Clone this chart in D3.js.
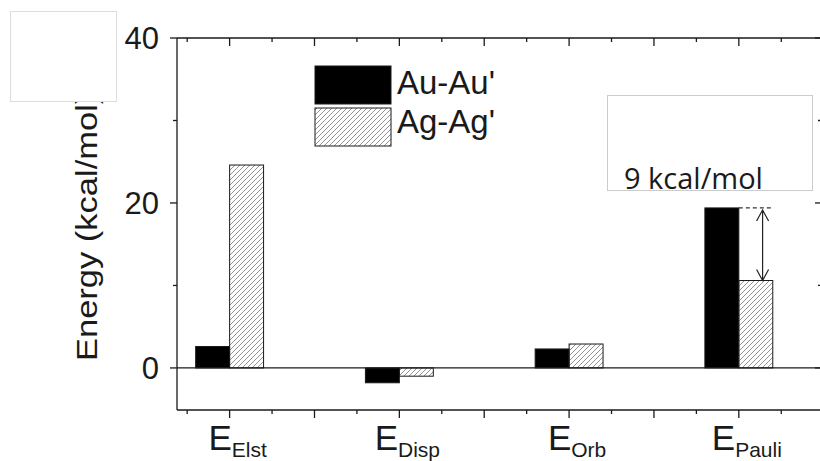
<!DOCTYPE html>
<html>
<head>
<meta charset="utf-8">
<script src="https://cdn.jsdelivr.net/npm/d3@7"></script>
<style>
	body { margin: 0; background: #fff; }
	svg { display: block; font-family: "Liberation Sans", Arial, sans-serif; }
</style>
</head>
<body>
<svg id="chart" width="820" height="461"></svg>
<script>
// energy decomposition terms (kcal/mol)
const categories = ['Elst', 'Disp', 'Orb', 'Pauli']
const seriesNames = ["Au-Au'", "Ag-Ag'"]
const auValues = [2.6, -1.8, 2.3, 19.4]
const agValues = [24.6, -1.0, 2.9, 10.6]
const yMajorTicks = [0, 20, 40]
const yMinorTicks = [10, 30]
const annotationText = '9 kcal/mol'

const svg = d3.select('#chart')
const ink = '#1a1a1a'

// plot frame
const x = d3.scaleLinear().domain([0.69, 4.49]).range([177, 822])
const y = d3.scaleLinear().domain([-5.1, 40]).range([410, 38])
const barW = x(1.2) - x(1)

// hatch for the Ag bars
const defs = svg.append('defs')
defs.append('pattern')
	.attr('id', 'hatch')
	.attr('patternUnits', 'userSpaceOnUse')
	.attr('width', 5)
	.attr('height', 5)
	.append('path')
	.attr('d', 'M0,5 L5,0 M-1,1 L1,-1 M4,6 L6,4')
	.attr('stroke', '#666')
	.attr('stroke-width', 0.7)

// bars
const rows = categories.map((c, i) => ({ name: c, pos: i + 1, au: auValues[i], ag: agValues[i] }))

svg.append('g').selectAll('rect')
	.data(rows)
	.join('rect')
	.attr('x', d => x(d.pos) - barW)
	.attr('y', d => y(Math.max(0, d.au)))
	.attr('width', barW)
	.attr('height', d => Math.abs(y(d.au) - y(0)))
	.attr('fill', '#000')
	.attr('stroke', ink)
	.attr('stroke-width', 1)

svg.append('g').selectAll('rect')
	.data(rows)
	.join('rect')
	.attr('x', d => x(d.pos))
	.attr('y', d => y(Math.max(0, d.ag)))
	.attr('width', barW)
	.attr('height', d => Math.abs(y(d.ag) - y(0)))
	.attr('fill', 'url(#hatch)')
	.attr('stroke', ink)
	.attr('stroke-width', 1)

// zero line
svg.append('line')
	.attr('x1', x.range()[0]).attr('x2', x.range()[1])
	.attr('y1', y(0)).attr('y2', y(0))
	.attr('stroke', ink).attr('stroke-width', 1.2)

// axes: ticks every 0.25 on x, long ones every 0.5
const xTicks = d3.range(0.75, 4.5, 0.25)
const isMajorX = t => Math.abs(t * 2 - Math.round(t * 2)) < 1e-6

function drawFrame() {
	const g = svg.append('g').attr('stroke', ink).attr('stroke-width', 1.3)
	const [x0, x1] = x.range()
	const [yb, yt] = y.range()
	g.append('line').attr('x1', x0).attr('x2', x1).attr('y1', yb).attr('y2', yb)
	g.append('line').attr('x1', x0).attr('x2', x1).attr('y1', yt).attr('y2', yt)
	g.append('line').attr('x1', x0).attr('x2', x0).attr('y1', yt).attr('y2', yb)
	g.append('line').attr('x1', x1).attr('x2', x1).attr('y1', yt).attr('y2', yb)

	xTicks.forEach(t => {
		const len = isMajorX(t) ? 8 : 4
		g.append('line').attr('x1', x(t)).attr('x2', x(t)).attr('y1', yb).attr('y2', yb + len)
		g.append('line').attr('x1', x(t)).attr('x2', x(t)).attr('y1', yt).attr('y2', yt + len)
	})
	yMajorTicks.forEach(t => {
		g.append('line').attr('x1', x0 - 7).attr('x2', x0).attr('y1', y(t)).attr('y2', y(t))
		g.append('line').attr('x1', x1 - 7).attr('x2', x1).attr('y1', y(t)).attr('y2', y(t))
	})
	yMinorTicks.forEach(t => {
		g.append('line').attr('x1', x0 - 4).attr('x2', x0).attr('y1', y(t)).attr('y2', y(t))
		g.append('line').attr('x1', x1 - 4).attr('x2', x1).attr('y1', y(t)).attr('y2', y(t))
	})
}
drawFrame()

// y tick labels
svg.append('g').selectAll('text')
	.data(yMajorTicks)
	.join('text')
	.attr('x', 159)
	.attr('y', d => y(d))
	.attr('dy', '0.36em')
	.attr('text-anchor', 'end')
	.attr('font-size', 31)
	.attr('fill', ink)
	.text(d => d)

// x labels: E with subscript
const xl = svg.append('g').selectAll('text')
	.data(rows)
	.join('text')
	.attr('x', d => x(d.pos) + 8)
	.attr('y', 450)
	.attr('text-anchor', 'middle')
	.attr('fill', ink)
xl.append('tspan').attr('font-size', 35).text('E')
xl.append('tspan').attr('font-size', 21).attr('dy', 7).text(d => d.name)

// y axis title (stretched along its length like the original)
svg.append('text')
	.attr('transform', 'translate(97,361) rotate(-90) scale(1.15,1)')
	.attr('font-size', 30)
	.attr('fill', ink)
	.text('Energy (kcal/mol)')

// blank box covering the end of the title
svg.append('rect')
	.attr('x', 10.5).attr('y', 11.5).attr('width', 106).attr('height', 90)
	.attr('fill', '#fff').attr('stroke', '#ddd')

// legend
const legend = svg.append('g')
seriesNames.forEach((s, i) => {
	legend.append('rect')
		.attr('x', 315).attr('y', 66 + i * 42).attr('width', 76).attr('height', 38)
		.attr('fill', i === 0 ? '#000' : 'url(#hatch)')
		.attr('stroke', ink).attr('stroke-width', 1)
	legend.append('text')
		.attr('x', 397).attr('y', 94 + i * 39)
		.attr('font-size', 33)
		.attr('fill', ink)
		.text(s)
})

// annotation: gap between Au and Ag Pauli terms
const pauli = rows[3]
svg.append('rect')
	.attr('x', 607.5).attr('y', 95.5).attr('width', 205).attr('height', 95)
	.attr('fill', '#fff').attr('stroke', '#ccc')
svg.append('text')
	.attr('x', 624).attr('y', 189)
	.attr('font-family', '"Open Sans", "Noto Sans", sans-serif')
	.attr('font-size', 29)
	.attr('fill', ink)
	.text(annotationText)

svg.append('line')
	.attr('x1', x(pauli.pos)).attr('x2', x(pauli.pos) + barW)
	.attr('y1', y(pauli.au)).attr('y2', y(pauli.au))
	.attr('stroke', '#333').attr('stroke-width', 1.2)
	.attr('stroke-dasharray', '4,3')

const ax = x(pauli.pos + 0.14)
const aTop = y(pauli.au) + 2
const aBot = y(pauli.ag)
svg.append('path')
	.attr('d', `M${ax},${aTop} V${aBot}` +
		` M${ax - 6},${aTop + 11} L${ax},${aTop} L${ax + 6},${aTop + 11}` +
		` M${ax - 6},${aBot - 11} L${ax},${aBot} L${ax + 6},${aBot - 11}`)
	.attr('fill', 'none')
	.attr('stroke', '#222')
	.attr('stroke-width', 1.2)
</script>
</body>
</html>
